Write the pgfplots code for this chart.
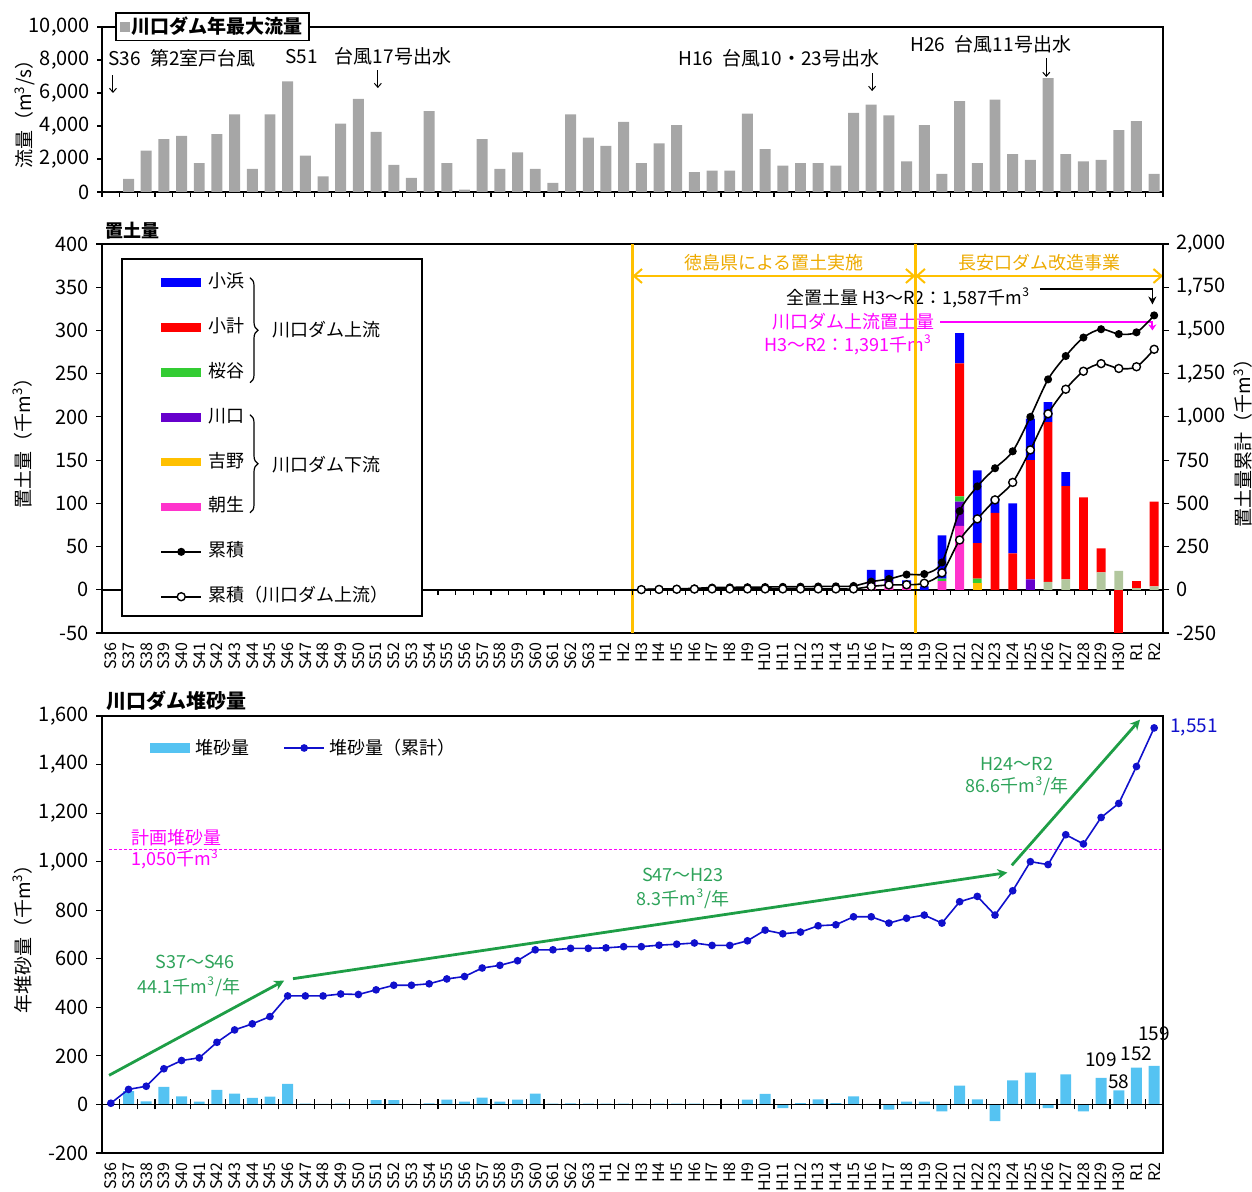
\documentclass[border=0pt]{standalone}
\usepackage{fontspec}
\setmainfont{Noto Sans CJK JP}
\usepackage{pgfplots}
\usepackage{pgfplotstable}
\pgfplotsset{compat=1.18}
\usetikzlibrary{arrows.meta,decorations.pathreplacing}

\definecolor{flowgray}{HTML}{A6A6A6}
\definecolor{cKohama}{HTML}{0000FF}
\definecolor{cKobakari}{HTML}{FF0000}
\definecolor{cSakura}{HTML}{33CC33}
\definecolor{cKawa}{HTML}{6600CC}
\definecolor{cYoshino}{HTML}{FFC000}
\definecolor{cAsahi}{HTML}{FF33CC}
\definecolor{cKhaki}{HTML}{B2C79E}
\definecolor{gold}{HTML}{FFC000}
\definecolor{goldtext}{HTML}{EDAA00}
\definecolor{sedbar}{HTML}{55C3F2}
\definecolor{sedline}{HTML}{1010CC}
\definecolor{trend}{HTML}{1E9E46}
\definecolor{trendtext}{HTML}{2EA35A}
\definecolor{planmag}{HTML}{FF00FF}

\newcommand{\mc}{m\textsuperscript{3}}
\newcommand{\fs}[1]{\fontsize{#1}{#1}\selectfont}

% annual maximum discharge (m3/s)
\pgfplotstableread{
x q
0 0
1 800
2 2500
3 3200
4 3400
5 1750
6 3500
7 4700
8 1400
9 4700
10 6700
11 2200
12 950
13 4150
14 5650
15 3650
16 1650
17 850
18 4900
19 1750
20 150
21 3200
22 1400
23 2400
24 1400
25 550
26 4700
27 3300
28 2800
29 4250
30 1750
31 2950
32 4050
33 1200
34 1300
35 1300
36 4750
37 2600
38 1600
39 1750
40 1750
41 1600
42 4800
43 5300
44 4650
45 1850
46 4050
47 1100
48 5500
49 1750
50 5600
51 2300
52 1950
53 6900
54 2300
55 1850
56 1950
57 3750
58 4300
59 1100
}\flowtab

% sediment placement by site (thousand m3), H3..R2
\pgfplotstableread{
x asahi yoshino kawa sakura khaki kobakari kohama
30 0 0 0 0 0 0 0
31 0 0 0 0 0 0 0
32 0 0 0 0 0 0 0
33 0 0 0 0 0 0 0
34 0 0 0 0 0 0 0
35 0 0 0 0 0 0 0
36 0 0 0 0 0 0 0
37 0 0 0 0 0 0 0
38 0 0 0 0 0 0 0
39 0 0 0 0 0 0 0
40 0 0 0 0 0 0 0
41 0 0 0 0 0 0 0
42 0 0 0 0 0 0 0
43 4 0 6 0 0 0 13
44 6 0 4 0 0 0 13
45 5 0 0 0 0 0 6
46 0 0 0 0 0 0 4
47 10 0 0 3 0 0 50
48 74 0 28 6 0 154 35
49 0 8 0 5 0 41 84
50 0 0 0 0 0 89 17
51 0 0 0 0 0 42 58
52 0 0 12 0 0 138 48
53 0 0 0 0 9 185 23
54 0 0 0 0 12 108 16
55 0 0 0 0 0 107 0
56 0 0 0 0 20 28 0
57 0 0 0 0 22 0 0
58 0 0 0 0 2 8 0
59 0 0 0 0 4 98 0
}\pddtab

% cumulative placement (thousand m3)
\pgfplotstableread{
x total up
30 2 1
31 4 2
32 6 3
33 8 4
34 13 5
35 14 5
36 15 5
37 16 5
38 17 5
39 18 5
40 19 5
41 20 5
42 22 5
43 47 19
44 62 28
45 88 29
46 91 38
47 158 98
48 455 288
49 598 410
50 703 520
51 801 621
52 1000 809
53 1217 1018
54 1352 1160
55 1459 1264
56 1507 1308
57 1479 1280
58 1489 1290
59 1587 1391
}\cumtab

% reservoir sedimentation: annual and cumulative (thousand m3)
\pgfplotstableread{
x a c
0 0 5
1 55 62
2 13 75
3 72 147
4 33 181
5 12 192
6 60 256
7 45 307
8 27 332
9 32 362
10 85 447
11 3 447
12 2 447
13 3 455
14 1 453
15 18 472
16 18 491
17 2 491
18 4 497
19 20 517
20 12 527
21 28 562
22 12 573
23 20 592
24 45 637
25 3 637
26 4 643
27 3 643
28 3 645
29 3 650
30 2 650
31 3 656
32 3 660
33 3 665
34 -3 655
35 2 655
36 20 674
37 44 718
38 -15 703
39 5 710
40 21 736
41 5 740
42 33 773
43 2 773
44 -21 747
45 12 767
46 12 780
47 -29 747
48 78 835
49 21 857
50 -69 780
51 99 880
52 131 1000
53 -15 988
54 124 1111
55 -29 1073
56 109 1182
57 58 1240
58 152 1392
59 159 1551
}\sedtab

\pgfplotsset{
  panel/.style={
    width=530.5pt, scale only axis, anchor=north west,
    xmin=-0.5, xmax=59.5,
    axis line style={line width=0.8pt},
    tick style={black, line width=0.6pt},
    tick align=outside,
    major tick length=3pt,
    scaled y ticks=false,
    /pgf/number format/assume math mode=true,
    /pgf/number format/1000 sep={,},
    ticklabel style={font=\fs{10}},
    ylabel style={font=\fs{9.5}},
    clip=false,
  },
  yearlabels/.style={
    xtick={0,...,59},
    xticklabels={S36,S37,S38,S39,S40,S41,S42,S43,S44,S45,S46,S47,S48,S49,S50,S51,S52,S53,S54,S55,S56,S57,S58,S59,S60,S61,S62,S63,H1,H2,H3,H4,H5,H6,H7,H8,H9,H10,H11,H12,H13,H14,H15,H16,H17,H18,H19,H20,H21,H22,H23,H24,H25,H26,H27,H28,H29,H30,R1,R2},
    xticklabel style={rotate=90, anchor=east, font=\fs{8}, inner sep=1.5pt},
    x tick style={draw=none},
  },
  patchlegend/.style={legend image code/.code={\fill[##1] (0pt,-2.2pt) rectangle (20pt,2.2pt);}},
  widepatchlegend/.style={legend image code/.code={\fill[##1] (0pt,-2.4pt) rectangle (20pt,2.4pt);}},
  squarelegend/.style={legend image code/.code={\fill[##1] (0pt,-2.5pt) rectangle (5pt,2.5pt);}},
  linelegend/.style={legend image code/.code={\draw[##1, sharp plot, mark repeat=2, mark phase=2] plot coordinates {(0pt,0pt) (10pt,0pt) (20pt,0pt)};}},
}

\begin{document}
\begin{tikzpicture}
\useasboundingbox (0,0) rectangle (626pt,-596pt);

%% ---------------- annual maximum discharge ----------------
\begin{axis}[panel, at={(51pt,-13.5pt)}, height=82.5pt,
  ymin=0, ymax=10000, ytick={0,2000,...,10000},
  xtick={-0.5,0.5,...,59.5}, xticklabels={},
  tick pos=left, major tick length=2.5pt,
  ylabel={流量（\mc/s）},
  ylabel style={at={(axis description cs:-0.0726,0.5)}, anchor=center},
  legend style={at={(0.0123,1.0909)}, anchor=north west, draw=black, line width=0.9pt,
    fill=white, inner xsep=2pt, inner ysep=1pt, font=\bfseries\fs{9.5},
    nodes={inner sep=1pt}},
]
\addplot[ybar, bar width=0.62, fill=flowgray, draw=none, squarelegend] table[x=x,y=q]{\flowtab};
\addlegendentry{川口ダム年最大流量}
\node[anchor=west, inner sep=0, font=\fs{9.5}] at (axis cs:-0.16,8120) {S36\hspace{0.5em}第2室戸台風};
\node[anchor=west, inner sep=0, font=\fs{9.5}] at (axis cs:9.85,8240) {S51\hspace{0.9em}台風17号出水};
\node[anchor=west, inner sep=0, font=\fs{9.5}] at (axis cs:32.08,8120) {H16\hspace{0.5em}台風10・23号出水};
\node[anchor=west, inner sep=0, font=\fs{9.5}] at (axis cs:45.2,8970) {H26\hspace{0.5em}台風11号出水};
\draw[line width=0.5pt, -{Straight Barb[length=2pt,width=3.5pt]}] (axis cs:0.12,7090) -- (axis cs:0.12,6000);
\draw[line width=0.5pt, -{Straight Barb[length=2pt,width=3.5pt]}] (axis cs:15.1,7390) -- (axis cs:15.1,6300);
\draw[line width=0.5pt, -{Straight Barb[length=2pt,width=3.5pt]}] (axis cs:43.05,7210) -- (axis cs:43.05,6120);
\draw[line width=0.5pt, -{Straight Barb[length=2pt,width=3.5pt]}] (axis cs:52.9,8120) -- (axis cs:52.9,6970);
\end{axis}

%% ---------------- sediment placement ----------------
\begin{axis}[panel, at={(51pt,-122pt)}, height=194.5pt,
  ymin=-50, ymax=400, ytick={-50,0,...,400},
  yearlabels, ytick pos=left,
  ylabel={置土量（千\mc）},
  ylabel style={at={(axis description cs:-0.075,0.5)}, anchor=center},
  ybar stacked, bar width=0.5,
  reverse legend, legend cell align=left,
  legend style={at={(0.0547,0.9254)}, anchor=north west, draw=none, fill=none,
    font=\fs{9}, row sep=13.45pt, inner sep=0pt,
    nodes={inner sep=0pt, text height=7pt, text depth=2pt},
    /tikz/every odd column/.append style={column sep=3pt}},
]
\addlegendimage{linelegend, black, line width=0.8pt, mark=*, mark size=2pt, mark options={fill=white, draw=black, line width=0.7pt}}
\addlegendentry{累積（川口ダム上流）}
\addlegendimage{linelegend, black, line width=0.8pt, mark=*, mark size=1.6pt}
\addlegendentry{累積}
\addplot[fill=cAsahi, draw=none, patchlegend] table[x=x,y=asahi]{\pddtab};
\addlegendentry{朝生}
\addplot[fill=cYoshino, draw=none, patchlegend] table[x=x,y=yoshino]{\pddtab};
\addlegendentry{吉野}
\addplot[fill=cKawa, draw=none, patchlegend] table[x=x,y=kawa]{\pddtab};
\addlegendentry{川口}
\addplot[fill=cSakura, draw=none, patchlegend] table[x=x,y=sakura]{\pddtab};
\addlegendentry{桜谷}
\addplot[fill=cKhaki, draw=none, forget plot] table[x=x,y=khaki]{\pddtab};
\addplot[fill=cKobakari, draw=none, patchlegend] table[x=x,y=kobakari]{\pddtab};
\addlegendentry{小計}
\addplot[fill=cKohama, draw=none, patchlegend] table[x=x,y=kohama]{\pddtab};
\addlegendentry{小浜}
% zero line with category ticks, interrupted by the legend frame
\draw[line width=0.8pt] (axis cs:-0.5,0) -- (axis cs:0.631,0);
\draw[line width=0.8pt] (axis cs:17.6,0) -- (axis cs:59.5,0);
\pgfplotsinvokeforeach{-0.5,18.5,19.5,...,59.5}{\draw[line width=0.6pt] (axis cs:#1,0) -- ++(0pt,-2.5pt);}
% periods
\draw[gold, line width=1.1pt] (axis cs:29.5,-50) -- (axis cs:29.5,400);
\draw[gold, line width=1.1pt] (axis cs:45.5,-50) -- (axis cs:45.5,400);
\draw[gold, line width=1pt, {Straight Barb[length=4pt,width=7pt]}-{Straight Barb[length=4pt,width=7pt]}] (axis cs:29.5,363) -- (axis cs:45.5,363);
\draw[gold, line width=1pt, {Straight Barb[length=4pt,width=7pt]}-{Straight Barb[length=4pt,width=7pt]}] (axis cs:45.5,363) -- (axis cs:59.5,363);
\node[text=goldtext, font=\fs{9}, inner sep=0] at (axis cs:37.5,378) {徳島県による置土実施};
\node[text=goldtext, font=\fs{9}, inner sep=0] at (axis cs:52.5,378) {長安口ダム改造事業};
% totals
\node[anchor=east, inner sep=0, font=\fs{9}] at (axis cs:52.0,338) {全置土量 H3～R2：1,587千\mc};
\draw[line width=0.8pt, -{Stealth[length=4pt,width=4pt]}] (axis cs:52.55,348) -| (axis cs:58.9,330);
\node[anchor=east, inner sep=0, font=\fs{9}, text=planmag] at (axis cs:46.6,310) {川口ダム上流置土量};
\draw[planmag, line width=0.9pt, -{Stealth[length=3pt,width=4pt]}] (axis cs:46.9,310) -| (axis cs:58.9,300);
\node[anchor=east, inner sep=0, font=\fs{9}, text=planmag] at (axis cs:46.45,283.4) {H3～R2：1,391千\mc};
% legend frame and groups
\draw[line width=0.8pt] (axis cs:0.631,382.8) rectangle (axis cs:17.6,-30.1);
\draw[line width=0.6pt, decorate, decoration={brace, amplitude=4pt}] (axis cs:7.87,361) -- (axis cs:7.87,239.5);
\draw[line width=0.6pt, decorate, decoration={brace, amplitude=4pt}] (axis cs:7.87,202.5) -- (axis cs:7.87,89);
\node[anchor=west, inner sep=0, font=\fs{9}] at (axis cs:9.11,300.8) {川口ダム上流};
\node[anchor=west, inner sep=0, font=\fs{9}] at (axis cs:9.11,144.6) {川口ダム下流};
\node[anchor=south west, inner sep=0, font=\bfseries\fs{9}] at (rel axis cs:0,1) [xshift=1.5pt, yshift=2pt] {置土量};
\end{axis}

% negative placement (H30), stacked separately below zero
\begin{axis}[panel, at={(51pt,-122pt)}, height=194.5pt, ymin=-50, ymax=400, hide axis]
\addplot[ybar, bar width=0.5, fill=cKobakari, draw=none] coordinates {(57,-50)};
\end{axis}

% cumulative placement on the secondary axis
\begin{axis}[panel, at={(51pt,-122pt)}, height=194.5pt,
  ymin=-250, ymax=2000, ytick={-250,0,...,2000},
  axis y line*=right, axis x line=none,
  ylabel={置土量累計（千\mc）},
  ylabel style={at={(axis description cs:1.0754,0.5)}, anchor=center},
]
\addplot[black, line width=0.8pt, smooth, mark=*, mark size=1.6pt] table[x=x,y=total]{\cumtab};
\addplot[black, line width=0.8pt, smooth, mark=*, mark size=2pt, mark options={fill=white, line width=0.7pt}] table[x=x,y=up]{\cumtab};
\end{axis}

%% ---------------- reservoir sedimentation ----------------
\begin{axis}[panel, at={(51pt,-358pt)}, height=218.5pt,
  ymin=-200, ymax=1600, ytick={-200,0,...,1600},
  yearlabels, ytick pos=left,
  ylabel={年堆砂量（千\mc）},
  ylabel style={at={(axis description cs:-0.075,0.5)}, anchor=center},
  legend columns=2,
  legend style={at={(0.0452,0.9268)}, anchor=west, draw=none, fill=none,
    font=\fs{9}, inner sep=0pt, nodes={inner sep=0pt},
    /tikz/every odd column/.append style={column sep=2.5pt},
    /tikz/every even column/.append style={column sep=17pt}},
]
\draw[planmag, dash pattern=on 1.5pt off 1pt, line width=0.75pt] (axis cs:-0.1,1050) -- (axis cs:59.4,1050);
\node[text=planmag, font=\fs{9}, inner sep=0] at (axis cs:3.69,1101) {計画堆砂量};
\node[text=planmag, font=\fs{9}, inner sep=0] at (axis cs:3.63,1010) {1,050千\mc};
\addplot[ybar, bar width=0.62, fill=sedbar, draw=none, widepatchlegend] table[x=x,y=a]{\sedtab};
\addlegendentry{堆砂量}
\draw[line width=0.9pt] (axis cs:-0.5,0) -- (axis cs:59.5,0);
\pgfplotsinvokeforeach{-0.5,0.5,...,59.5}{\draw[line width=0.6pt] (axis cs:#1,0) ++(0pt,-2.5pt) -- ++(0pt,5pt);}
\addplot[sedline, line width=0.8pt, mark=*, mark size=1.5pt, linelegend] table[x=x,y=c]{\sedtab};
\addlegendentry{堆砂量（累計）}
% trends
\draw[trend, line width=1.4pt, -{Stealth[length=5pt,width=5pt]}] (axis cs:-0.1,120) -- (axis cs:9.8,510);
\draw[trend, line width=1.4pt, -{Stealth[length=5pt,width=5pt]}] (axis cs:10.3,518) -- (axis cs:50.7,955);
\draw[trend, line width=1.4pt, -{Stealth[length=5pt,width=5pt]}] (axis cs:50.95,985) -- (axis cs:58.2,1585);
\node[text=trendtext, font=\fs{9}, inner sep=0] at (axis cs:4.76,589) {S37～S46};
\node[text=trendtext, font=\fs{9}, inner sep=0] at (axis cs:4.42,486) {44.1千\mc/年};
\node[text=trendtext, font=\fs{9}, inner sep=0] at (axis cs:32.36,947) {S47～H23};
\node[text=trendtext, font=\fs{9}, inner sep=0] at (axis cs:32.36,848) {8.3千\mc/年};
\node[text=trendtext, font=\fs{9}, inner sep=0] at (axis cs:51.25,1404) {H24～R2};
\node[text=trendtext, font=\fs{9}, inner sep=0] at (axis cs:51.25,1310) {86.6千\mc/年};
% value labels
\node[anchor=west, text=sedline, font=\fs{9.5}, inner sep=0] at (axis cs:59.5,1551) [xshift=3.5pt] {1,551};
\node[anchor=south, font=\fs{9.5}, inner sep=0] at (axis cs:56,109) [yshift=5.5pt] {109};
\node[anchor=south, font=\fs{9.5}, inner sep=0] at (axis cs:57,58) [yshift=0.5pt] {58};
\node[anchor=south, font=\fs{9.5}, inner sep=0] at (axis cs:58,152) [yshift=3pt] {152};
\node[anchor=south, font=\fs{9.5}, inner sep=0] at (axis cs:59,159) [yshift=12.5pt] {159};
\node[anchor=south west, inner sep=0, font=\bfseries\fs{10}] at (rel axis cs:0,1) [xshift=2pt, yshift=2.5pt] {川口ダム堆砂量};
\end{axis}
\end{tikzpicture}
\end{document}
